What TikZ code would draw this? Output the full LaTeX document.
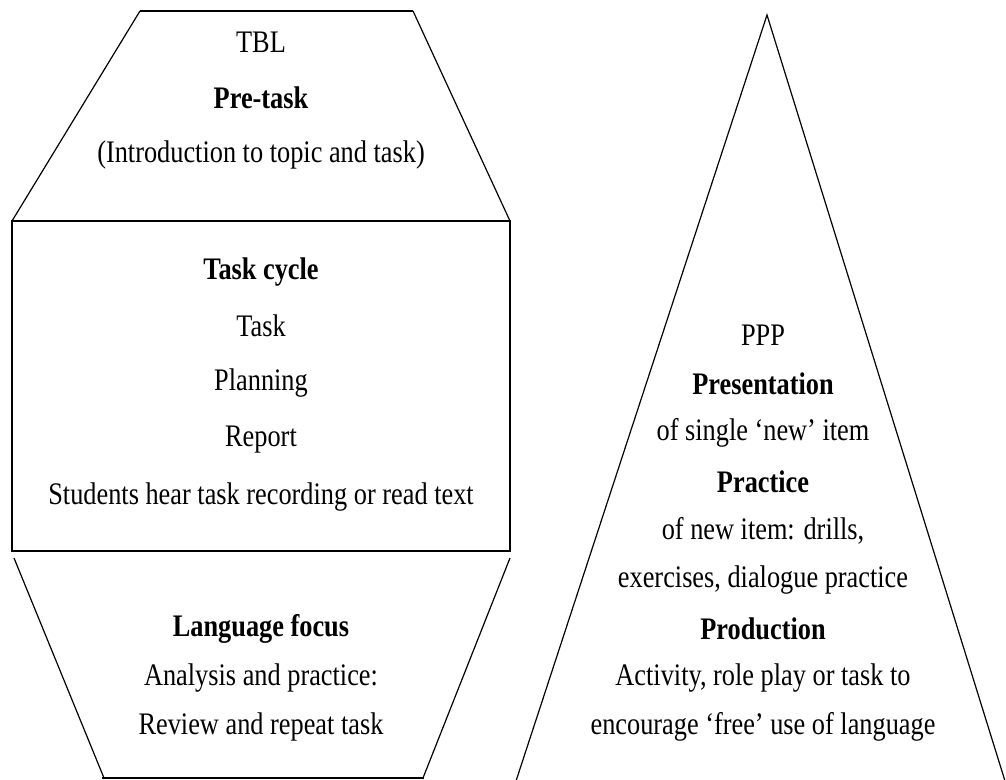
\documentclass[tikz,border=0pt]{standalone}
\usepackage{fontspec}
\setmainfont{Liberation Serif}[FakeStretch=0.84]
\begin{document}
\begin{tikzpicture}[x=0.75pt, y=-0.75pt,
    txt/.style={font=\fontsize{23.5}{28}\selectfont, inner sep=0pt},
    head/.style={font=\fontsize{23.5}{28}\selectfont\bfseries, inner sep=0pt},
    side/.style={line width=0.9pt},
    rim/.style={line width=1.5pt}]
  \useasboundingbox (0,0) rectangle (1006,780);

  % TBL: top part
  \draw[side] (12,221) -- (140,11);
  \draw[rim] (140,11) -- (413,11);
  \draw[side] (413,11) -- (510,221);
  \node[txt]  (tbl)     at (261,42)  {TBL};
  \node[head] (pretask) at (261,98)  {Pre-task};
  \node[txt]  (intro)   at (261,155) {(Introduction to topic and task)};

  % TBL: task cycle box
  \draw[line width=1.2pt] (12,221) rectangle (510,551);
  \node[head] (cycle)    at (261,272) {Task cycle};
  \node[txt]  (task)     at (261,326) {Task};
  \node[txt]  (planning) at (261,383) {Planning};
  \node[txt]  (report)   at (261,440) {Report};
  \node[txt]  (hear)     at (261,497) {Students hear task recording or read text};

  % TBL: bottom part
  \draw[side] (14,558) -- (104,778);
  \draw[rim] (102,778) -- (424,778);
  \draw[side] (423,778) -- (510,558);
  \node[head] (focus)    at (261,629) {Language focus};
  \node[txt]  (analysis) at (261,678) {Analysis and practice:};
  \node[txt]  (review)   at (261,727) {Review and repeat task};

  % PPP triangle
  \draw[side] (516,781) -- (767,15) -- (1005,781);
  \node[txt]  (ppp)      at (763,335) {PPP};
  \node[head] (present)  at (763,384) {Presentation};
  \node[txt]  (single)   at (763,433) {of single ‘new’ item};
  \node[head] (practice) at (763,482) {Practice};
  \node[txt]  (drills)   at (763,531) {of new item: drills,};
  \node[txt]  (dialogue) at (763,580) {exercises, dialogue practice};
  \node[head] (produce)  at (763,629) {Production};
  \node[txt]  (activity) at (763,678) {Activity, role play or task to};
  \node[txt]  (free)     at (763,727) {encourage ‘free’ use of language};
\end{tikzpicture}
\end{document}
